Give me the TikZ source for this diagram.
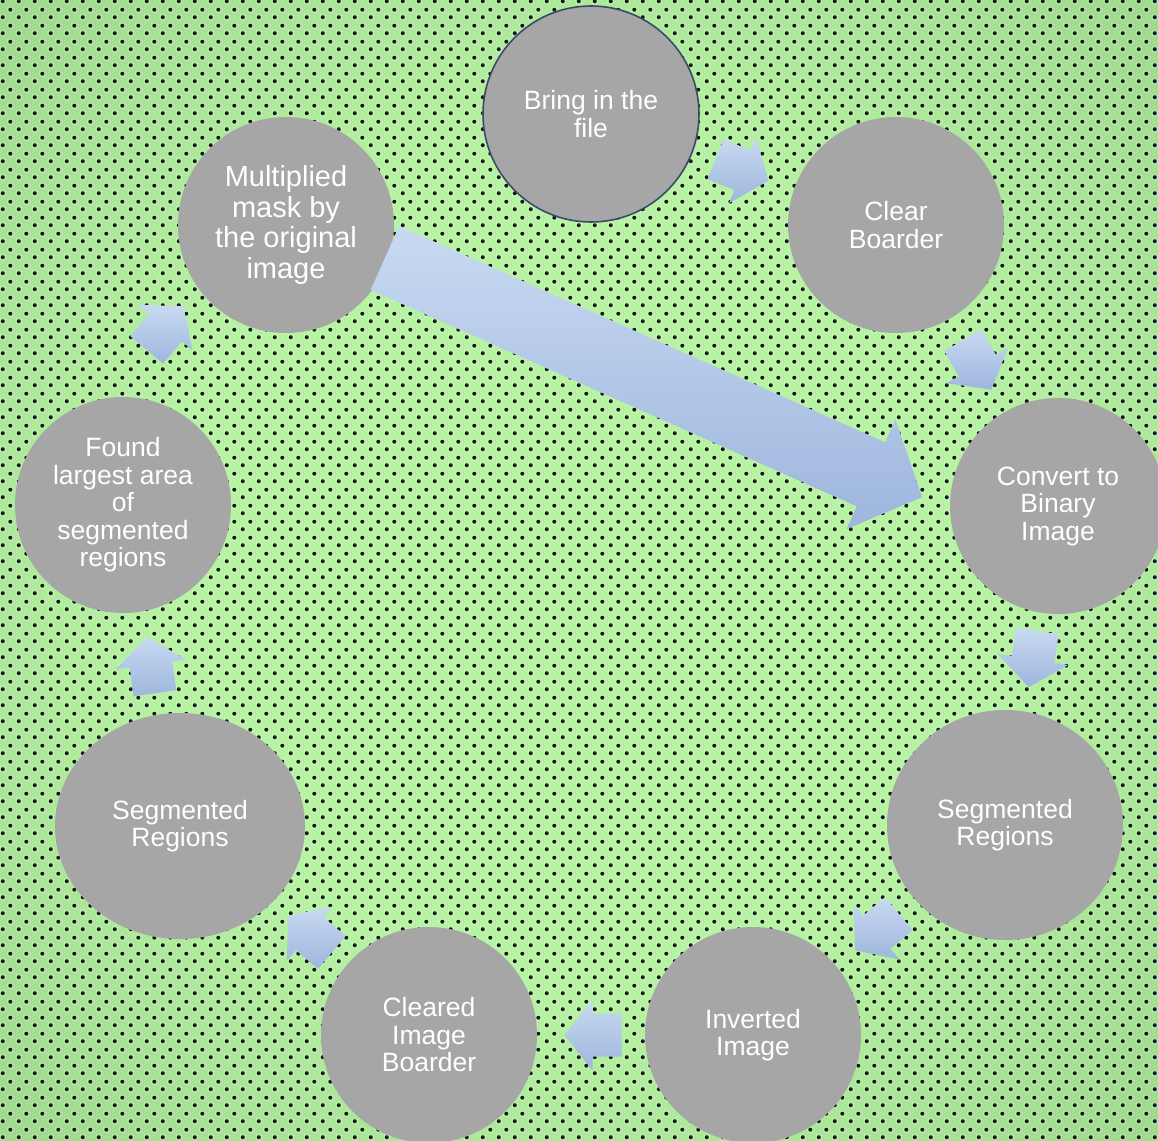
\documentclass[tikz,border=0pt]{standalone}
\usepackage{fontspec}
\setmainfont{Liberation Sans}
\usetikzlibrary{calc,shapes.geometric,patterns}
\definecolor{bgin}{RGB}{182,243,162}
\definecolor{bgout}{RGB}{138,196,122}
\definecolor{nodegray}{RGB}{166,166,166}
\definecolor{rimblue}{RGB}{59,75,102}
\definecolor{arrtop}{RGB}{200,218,242}
\definecolor{arrbot}{RGB}{158,182,221}
\definecolor{dotcol}{RGB}{18,28,20}
\pgfdeclareradialshading{vign}{\pgfpoint{0bp}{0bp}}{color(0bp)=(bgin); color(18bp)=(bgin); color(50bp)=(bgout)}
\pgfdeclarepatternformonly{bgdots}{\pgfpointorigin}{\pgfqpoint{16pt}{16pt}}{\pgfqpoint{16pt}{16pt}}{%
  \pgfpathcircle{\pgfqpoint{4pt}{4pt}}{2.15pt}%
  \pgfpathcircle{\pgfqpoint{12pt}{12pt}}{2.15pt}%
  \pgfusepath{fill}}
\pgfdeclarepatternformonly{bghalo}{\pgfpointorigin}{\pgfqpoint{16pt}{16pt}}{\pgfqpoint{16pt}{16pt}}{%
  \pgfpathcircle{\pgfqpoint{4pt}{4pt}}{3.8pt}%
  \pgfpathcircle{\pgfqpoint{12pt}{12pt}}{3.8pt}%
  \pgfusepath{fill}}
\tikzset{
  stage/.style={circle, fill=nodegray, minimum size=216pt, inner sep=0pt,
    text=white, align=center, font=\fontsize{26.5pt}{27.5pt}\selectfont},
  ovalstage/.style={stage, ellipse},
  arrowfill/.style={top color=arrtop, bottom color=arrbot, draw=none},
}
% block arrow: name, x, y (screen), screen angle, length, shaft width, head width, head length
\newcommand\blkarrow[8]{%
  \coordinate (#1) at (#2,-#3);
  \pgfmathsetmacro\myArA{-#4}%
  \pgfmathsetmacro\myArL{#5/2}%
  \pgfmathsetmacro\myArJ{#5/2-#8}%
  \pgfmathsetmacro\myArw{#6/2}%
  \pgfmathsetmacro\myArW{#7/2}%
  \shade[arrowfill]
    ($(#1)+(\myArA+180:\myArL)+(\myArA+90:\myArw)$) --
    ($(#1)+(\myArA:\myArJ)+(\myArA+90:\myArw)$) --
    ($(#1)+(\myArA:\myArJ)+(\myArA+90:\myArW)$) --
    ($(#1)+(\myArA:\myArL)$) --
    ($(#1)+(\myArA:\myArJ)+(\myArA-90:\myArW)$) --
    ($(#1)+(\myArA:\myArJ)+(\myArA-90:\myArw)$) --
    ($(#1)+(\myArA+180:\myArL)+(\myArA-90:\myArw)$) -- cycle;
}
\begin{document}
\begin{tikzpicture}[x=1pt,y=1pt]
\useasboundingbox (0,0) rectangle (1158,-1140);
\clip (0,0) rectangle (1158,-1140);
% background
\shade[shading=vign] (0,0) rectangle (1158,-1140);
\fill[pattern=bghalo, pattern color=white, fill opacity=0.22] (0,0) rectangle (1158,-1140);
\fill[pattern=bgdots, pattern color=dotcol] (0,0) rectangle (1158,-1140);

% stages
\node[stage, draw=rimblue, line width=1.6pt] (n1) at (591,-114) {Bring in the\\file};
\node[stage] (n2) at (896,-225) {Clear\\Boarder};
\node[stage] (n3) at (1058,-506) {Convert to\\Binary\\Image};
\node[ovalstage, minimum width=236pt, minimum height=230pt] (n4) at (1005,-825) {Segmented\\Regions};
\node[stage] (n5) at (753,-1035) {Inverted\\Image};
\node[stage] (n6) at (429,-1035) {Cleared\\Image\\Boarder};
\node[ovalstage, minimum width=250pt, minimum height=226pt] (n7) at (180,-826) {Segmented\\Regions};
\node[stage] (n8) at (123,-505) {Found\\largest area\\of\\segmented\\regions};
\node[stage, font=\fontsize{29pt}{30.7pt}\selectfont] (n9) at (286,-225) {Multiplied\\mask by\\the original\\image};

% arrows
\blkarrow{a1}{742}{170}{22}{57}{43}{71}{28}
\blkarrow{a2}{977}{365}{60}{57}{43}{71}{28}
\blkarrow{a3}{1033}{659}{99}{57}{43}{71}{28}
\blkarrow{a4}{877}{932}{140}{57}{43}{71}{28}
\blkarrow{a5}{593}{1035}{180}{57}{43}{71}{28}
\blkarrow{a6}{310}{934}{220}{57}{43}{71}{28}
\blkarrow{a7}{151}{665}{262}{57}{43}{71}{28}
\blkarrow{a8}{165}{328}{310}{57}{43}{71}{28}
\blkarrow{abig}{653.5}{377.5}{24}{588}{70}{120}{56}
\end{tikzpicture}
\end{document}
